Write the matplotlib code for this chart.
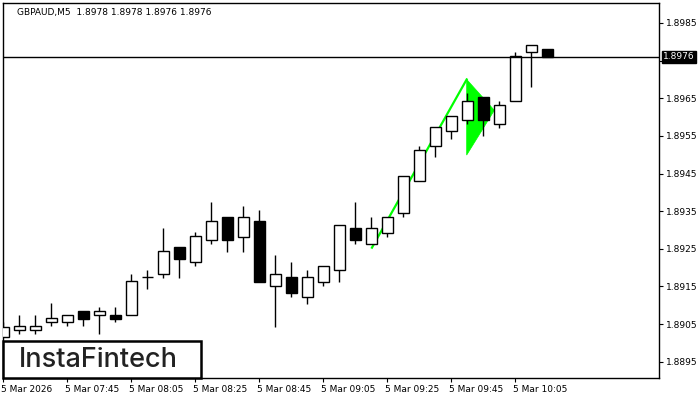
import matplotlib
matplotlib.use("Agg")
import matplotlib.pyplot as plt
import matplotlib.transforms as mtransforms
from matplotlib.patches import Rectangle, Polygon

symbol_title = "GBPAUD,M5  1.8978 1.8978 1.8976 1.8976"

# M5 candles, 5 Mar 2026 07:25 .. 10:15
opens = [1.89015, 1.89033, 1.89033, 1.89055, 1.89055, 1.89084, 1.89073, 1.89073, 1.89073, 1.89174,
         1.89182, 1.89254, 1.89214, 1.89272, 1.89334, 1.89282, 1.89323, 1.89152, 1.89174, 1.89123,
         1.89163, 1.89193, 1.89304, 1.89264, 1.89293, 1.89344, 1.89431, 1.89522, 1.89562, 1.89591,
         1.89653, 1.89582, 1.89642, 1.89772, 1.89780]
highs = [1.89055, 1.89074, 1.89074, 1.89106, 1.89073, 1.89084, 1.89095, 1.89095, 1.89182, 1.89193,
         1.89304, 1.89254, 1.89294, 1.89374, 1.89334, 1.89364, 1.89353, 1.89234, 1.89215, 1.89194,
         1.89203, 1.89312, 1.89374, 1.89334, 1.89334, 1.89443, 1.89523, 1.89574, 1.89603, 1.89663,
         1.89653, 1.89643, 1.89772, 1.89792, 1.89780]
lows = [1.89015, 1.89024, 1.89024, 1.89044, 1.89044, 1.89044, 1.89024, 1.89055, 1.89073, 1.89144,
        1.89173, 1.89173, 1.89203, 1.89264, 1.89242, 1.89242, 1.89163, 1.89043, 1.89123, 1.89104,
        1.89152, 1.89163, 1.89264, 1.89264, 1.89282, 1.89334, 1.89431, 1.89493, 1.89543, 1.89582,
        1.89550, 1.89572, 1.89642, 1.89681, 1.89760]
closes = [1.89042, 1.89044, 1.89044, 1.89065, 1.89073, 1.89064, 1.89084, 1.89064, 1.89164, 1.89174,
          1.89243, 1.89224, 1.89283, 1.89323, 1.89272, 1.89334, 1.89163, 1.89182, 1.89133, 1.89174,
          1.89203, 1.89312, 1.89272, 1.89304, 1.89334, 1.89443, 1.89513, 1.89574, 1.89603, 1.89643,
          1.89591, 1.89632, 1.89762, 1.89792, 1.89760]

current_price = 1.8976

# bullish pennant: pole and flag (bar index, price)
pole_x = [23.04, 28.96]
pole_y = [1.89253, 1.89700]
flag_x = [28.96, 28.96, 30.69]
flag_y = [1.89700, 1.89499, 1.89618]

xtick_pos = [0, 4, 8, 12, 16, 20, 24, 28, 32]
xtick_labels = ["5 Mar 2026", "5 Mar 07:45", "5 Mar 08:05", "5 Mar 08:25", "5 Mar 08:45",
                "5 Mar 09:05", "5 Mar 09:25", "5 Mar 09:45", "5 Mar 10:05"]
ytick_vals = [1.8895, 1.8905, 1.8915, 1.8925, 1.8935, 1.8945, 1.8955, 1.8965, 1.8975, 1.8985]

fig = plt.figure(figsize=(7, 4), dpi=100)
ax = fig.add_axes([3 / 700, 22 / 400, 656 / 700, 375 / 400])

body_w = 0.67
for i, (o, h, l, c) in enumerate(zip(opens, highs, lows, closes)):
    ax.vlines(i, l, h, color="black", lw=1.0, zorder=3)
    bottom = min(o, c)
    height = abs(c - o)
    face = "white" if c >= o else "black"
    if height < 1e-6:
        ax.hlines(o, i - body_w / 2, i + body_w / 2, color="black", lw=1.0, zorder=4)
    else:
        ax.add_patch(Rectangle((i - body_w / 2, bottom), body_w, height,
                               facecolor=face, edgecolor="black", lw=1.0, zorder=4))

ax.plot(pole_x, pole_y, color="#00ff00", lw=1.6, zorder=2)
ax.add_patch(Polygon(list(zip(flag_x, flag_y)), closed=True, facecolor="#00ff00",
                     edgecolor="#00ff00", lw=0.5, zorder=2))

ax.axhline(current_price, color="black", lw=1.0, zorder=5)

ax.set_xlim(-0.02, 40.98)
ax.set_ylim(1.889066, 1.899031)

ax.yaxis.tick_right()
ax.set_yticks(ytick_vals)
ax.set_yticklabels([f"{v:.4f}" for v in ytick_vals])
ax.set_xticks(xtick_pos)
ax.set_xticklabels(xtick_labels, ha="left")
ax.tick_params(axis="both", labelsize=6.5, length=3, width=0.8, colors="black", pad=2)
offset = mtransforms.ScaledTranslation(-2 / 100, 0, fig.dpi_scale_trans)
for lbl in ax.get_xticklabels():
    lbl.set_transform(lbl.get_transform() + offset)
for sp in ax.spines.values():
    sp.set_color("black")
    sp.set_linewidth(1.0)

trans = mtransforms.blended_transform_factory(ax.transAxes, ax.transData)
ax.text(1.006, current_price, f"{current_price:.4f}", transform=trans, ha="left", va="center",
        fontsize=6.5, color="white", zorder=10, clip_on=False,
        bbox=dict(facecolor="black", edgecolor="black", pad=1.0))

ax.text(14 / 656, 0.975, symbol_title, transform=ax.transAxes, ha="left", va="center",
        fontsize=6.5, color="black")

# logo box
fig.patches.append(Rectangle((3 / 700, 22 / 400), 198 / 700, 37 / 400, transform=fig.transFigure,
                             facecolor="white", edgecolor="black", lw=1.8, zorder=20))
fig.text(98 / 700, 40 / 400, "InstaFintech", ha="center", va="center", fontsize=19.5,
         family="Inter", fontweight="medium", color="#222222", zorder=21)

fig.savefig("out.png", dpi=100)
